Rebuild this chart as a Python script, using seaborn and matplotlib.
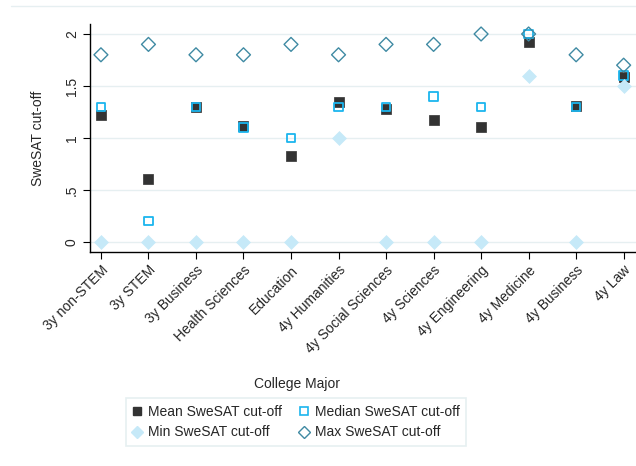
"""
Scatter of SweSAT cut-off statistics (mean, median, min, max) by college major.
"""

import numpy as np
import pandas as pd
import matplotlib
matplotlib.use("Agg")
import matplotlib.pyplot as plt
from matplotlib.lines import Line2D
import seaborn as sns

majors = ["3y non-STEM", "3y STEM", "3y Business", "Health Sciences", "Education",
          "4y Humanities", "4y Social Sciences", "4y Sciences", "4y Engineering",
          "4y Medicine", "4y Business", "4y Law"]
mean_cut = [1.22, 0.61, 1.30, 1.12, 0.83, 1.35, 1.28, 1.17, 1.11, 1.92, 1.31, 1.59]
median_cut = [1.30, 0.20, 1.30, 1.10, 1.00, 1.30, 1.30, 1.40, 1.30, 2.00, 1.30, 1.60]
min_cut = [0.0, 0.0, 0.0, 0.0, 0.0, 1.0, 0.0, 0.0, 0.0, 1.60, 0.0, 1.50]
max_cut = [1.80, 1.90, 1.80, 1.80, 1.90, 1.80, 1.90, 1.90, 2.00, 2.00, 1.80, 1.70]
y_ticks = [0, 0.5, 1, 1.5, 2]
y_tick_labels = ["0", ".5", "1", "1.5", "2"]

MEAN_C = "#333333"
MEDIAN_C = "#1bb5ee"
MIN_C = "#c6e9f8"
MAX_C = "#3f8aa3"

sns.set_style("white")
plt.rcParams["font.family"] = ["Liberation Sans", "DejaVu Sans"]

df = pd.DataFrame({"pos": np.arange(len(majors)), "major": majors,
                   "mean": mean_cut, "median": median_cut,
                   "min": min_cut, "max": max_cut})

fig = plt.figure(figsize=(6.36, 4.66), dpi=100)
ax = fig.add_axes([90 / 636, 1 - 252 / 466, 546 / 636, 228 / 466])

# draw order follows the legend: mean, median, min, max
sns.scatterplot(data=df, x="pos", y="mean", ax=ax, marker="s", s=46,
                color=MEAN_C, edgecolor=MEAN_C, linewidth=0.5, zorder=3)
sns.scatterplot(data=df, x="pos", y="median", ax=ax, marker="s", s=38,
                facecolor="none", edgecolor=MEDIAN_C, linewidth=1.3, zorder=4)
sns.scatterplot(data=df, x="pos", y="min", ax=ax, marker="D", s=50,
                color=MIN_C, edgecolor=MIN_C, linewidth=0.5, zorder=5)
sns.scatterplot(data=df, x="pos", y="max", ax=ax, marker="D", s=50,
                facecolor="none", edgecolor=MAX_C, linewidth=1.0, zorder=6)

ax.set_xlim(-0.23, 11.26)
ax.set_ylim(-0.096, 2.096)
ax.set_yticks(y_ticks)
ax.set_yticklabels(y_tick_labels, rotation=90, va="center", fontsize=10)
ax.set_xticks(df["pos"])
ax.set_xticklabels(majors, rotation=45, ha="right", rotation_mode="anchor", fontsize=10)
ax.tick_params(axis="both", direction="out", length=5, width=0.8, color="black",
               left=True, bottom=True, pad=3)
ax.yaxis.grid(True, color="#e6eff1", linewidth=1)
ax.set_axisbelow(True)
for side in ["top", "right"]:
    ax.spines[side].set_visible(False)
for side in ["left", "bottom"]:
    ax.spines[side].set_color("black")
    ax.spines[side].set_linewidth(1)

ax.set_ylabel("SweSAT cut-off", fontsize=10)
ax.yaxis.set_label_coords((45 - 90) / 546, 0.5)
ax.set_xlabel("College Major", fontsize=10)
ax.xaxis.set_label_coords((297 - 90) / 546, (252 - 377) / 228)

# faint outer border line at top
fig.add_artist(Line2D([11 / 636, 1], [1 - 6 / 466, 1 - 6 / 466],
                      color="#e6eff1", linewidth=1))

handles = [
    Line2D([], [], linestyle="none", marker="s", markersize=6,
           markerfacecolor=MEAN_C, markeredgecolor=MEAN_C),
    Line2D([], [], linestyle="none", marker="D", markersize=6,
           markerfacecolor=MIN_C, markeredgecolor=MIN_C),
    Line2D([], [], linestyle="none", marker="s", markersize=6,
           markerfacecolor="none", markeredgecolor=MEDIAN_C, markeredgewidth=1.2),
    Line2D([], [], linestyle="none", marker="D", markersize=6,
           markerfacecolor="none", markeredgecolor=MAX_C, markeredgewidth=1.0),
]
labels = ["Mean SweSAT cut-off", "Min SweSAT cut-off",
          "Median SweSAT cut-off", "Max SweSAT cut-off"]
leg = fig.legend(handles, labels, ncol=2, loc="center",
                 bbox_to_anchor=(296 / 636, 1 - 422 / 466), fontsize=10,
                 frameon=True, fancybox=False, handlelength=0.7, handletextpad=0.4,
                 columnspacing=1.3, labelspacing=0.5, borderpad=0.45)
leg.get_frame().set_edgecolor("#e0ecee")
leg.get_frame().set_linewidth(1.2)

fig.savefig("out.png", dpi=100)
